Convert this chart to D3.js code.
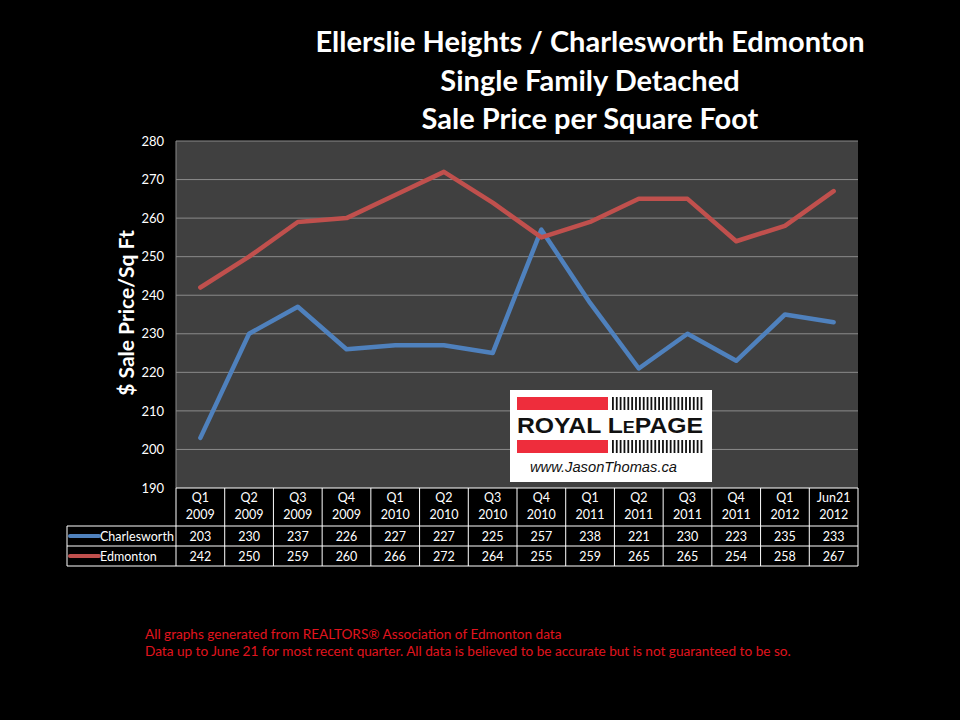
<!DOCTYPE html>
<html><head><meta charset="utf-8">
<script src="https://cdn.jsdelivr.net/npm/d3@7"></script>
<style>body{margin:0;background:#000}svg{display:block}</style>
</head><body>
<script>
const categories = [["Q1","2009"],["Q2","2009"],["Q3","2009"],["Q4","2009"],["Q1","2010"],["Q2","2010"],["Q3","2010"],["Q4","2010"],["Q1","2011"],["Q2","2011"],["Q3","2011"],["Q4","2011"],["Q1","2012"],["Jun21","2012"]];
const charlesworth = [203,230,237,226,227,227,225,257,238,221,230,223,235,233];
const edmonton = [242,250,259,260,266,272,264,255,259,265,265,254,258,267];
const seriesNames = ["Charlesworth","Edmonton"];
const seriesColors = ["#4f81bd","#c0504d"];
const yTicks = [190,200,210,220,230,240,250,260,270,280];
const titleLines = ["Ellerslie Heights / Charlesworth Edmonton","Single Family Detached","Sale Price per Square Foot"];
const footnotes = ["All graphs generated from REALTORS® Association of Edmonton data","Data up to June 21  for most recent quarter. All data is believed to be accurate but is not guaranteed to be so."];

(function(){
const W=960,H=720;
const svg=d3.select("body").append("svg").attr("width",W).attr("height",H).style("background","#000");
const font="Lato, 'Open Sans', sans-serif";
const pL=176,pR=858,pT=141,pB=488;
const x=d3.scaleBand().domain(d3.range(categories.length)).range([pL,pR]);
const y=d3.scaleLinear().domain([190,280]).range([pB,pT]);

svg.append("g").selectAll("text").data(titleLines).join("text")
 .attr("x",590).attr("y",(d,i)=>52+i*38.5).attr("text-anchor","middle")
 .attr("fill","#fff").attr("font-family",font).attr("font-weight","bold").attr("font-size",29).text(d=>d);

svg.append("rect").attr("x",pL).attr("y",pT).attr("width",pR-pL).attr("height",pB-pT).attr("fill","#404040");
svg.append("g").selectAll("line").data(yTicks.slice(1)).join("line")
 .attr("x1",pL).attr("x2",pR).attr("y1",d=>y(d)).attr("y2",d=>y(d)).attr("stroke","#8a8a8a").attr("stroke-width",1);
svg.append("line").attr("x1",pL).attr("x2",pL).attr("y1",pT).attr("y2",pB).attr("stroke","#8a8a8a");
const ya=d3.axisLeft(y).tickValues(yTicks).tickSize(0).tickPadding(12);
const yg=svg.append("g").attr("transform",`translate(${pL},0)`).call(ya);
yg.select(".domain").remove();
yg.selectAll("text").attr("fill","#fff").attr("font-family",font).attr("font-size",13);
svg.append("text").attr("transform",`translate(134,313) rotate(-90)`).attr("text-anchor","middle")
 .attr("fill","#fff").attr("font-family",font).attr("font-weight","bold").attr("font-size",21).text("$ Sale Price/Sq Ft");

const lg=svg.append("g").attr("transform","translate(510,390)");
lg.append("rect").attr("width",202).attr("height",92).attr("fill","#fff");
lg.append("rect").attr("x",7).attr("y",7).attr("width",91).attr("height",13).attr("fill","#ee2d3c");
lg.append("rect").attr("x",7).attr("y",50).attr("width",91).attr("height",13).attr("fill","#ee2d3c");
const stripes=d3.range(24);
[7,50].forEach(yy=>{
  lg.append("g").selectAll("rect").data(stripes).join("rect")
   .attr("x",d=>102+d*3.85).attr("y",yy).attr("width",1.8).attr("height",13).attr("fill","#111");
});
const brand=lg.append("text").attr("x",7).attr("y",43).attr("font-family","'Liberation Sans', Arial, sans-serif")
 .attr("font-weight","bold").attr("font-size",22).attr("fill","#111").attr("textLength",186).attr("lengthAdjust","spacingAndGlyphs");
brand.append("tspan").text("ROYAL L");
brand.append("tspan").attr("font-size",16).text("E");
brand.append("tspan").text("PAGE");
lg.append("text").attr("x",20).attr("y",82).attr("font-family","'Liberation Sans', Arial, sans-serif")
 .attr("font-style","italic").attr("font-size",14).attr("fill","#111").attr("textLength",147).attr("lengthAdjust","spacingAndGlyphs").text("www.JasonThomas.ca");

const line=d3.line().x((d,i)=>x(i)+x.bandwidth()/2).y(d=>y(d));
[charlesworth,edmonton].forEach((s,k)=>{
  svg.append("path").datum(s).attr("d",line).attr("fill","none").attr("stroke",seriesColors[k])
   .attr("stroke-width",4.5).attr("stroke-linejoin","round").attr("stroke-linecap","round");
});

const tb=svg.append("g");
const rowY=[488,526,546,566];
const tLeft=67;
tb.append("g").selectAll("line").data(d3.range(categories.length+1)).join("line")
 .attr("x1",i=>pL+i*x.step()).attr("x2",i=>pL+i*x.step()).attr("y1",rowY[0]).attr("y2",rowY[3]).attr("stroke","#fff");
tb.append("line").attr("x1",pL).attr("x2",pR).attr("y1",rowY[0]).attr("y2",rowY[0]).attr("stroke","#fff");
[1,2,3].forEach(r=>tb.append("line").attr("x1",tLeft).attr("x2",pR).attr("y1",rowY[r]).attr("y2",rowY[r]).attr("stroke","#fff"));
tb.append("line").attr("x1",tLeft).attr("x2",tLeft).attr("y1",rowY[1]).attr("y2",rowY[3]).attr("stroke","#fff");
const fs=12.5;
const hdr=tb.append("g").selectAll("text").data(categories).join("text")
 .attr("x",(d,i)=>x(i)+x.bandwidth()/2).attr("text-anchor","middle").attr("fill","#fff").attr("font-family",font).attr("font-size",fs);
hdr.append("tspan").attr("y",502).attr("x",(d,i)=>x(i)+x.bandwidth()/2).text(d=>d[0]);
hdr.append("tspan").attr("y",519).attr("x",(d,i)=>x(i)+x.bandwidth()/2).text(d=>d[1]);
[charlesworth,edmonton].forEach((s,k)=>{
  const cy=(rowY[k+1]+rowY[k+2])/2+4.5;
  tb.append("g").selectAll("text").data(s).join("text").attr("x",(d,i)=>x(i)+x.bandwidth()/2).attr("y",cy)
   .attr("text-anchor","middle").attr("fill","#fff").attr("font-family",font).attr("font-size",fs).text(d=>d);
  tb.append("line").attr("x1",tLeft+3).attr("x2",tLeft+32).attr("y1",cy-4.5).attr("y2",cy-4.5).attr("stroke",seriesColors[k]).attr("stroke-width",4).attr("stroke-linecap","round");
  tb.append("text").attr("x",tLeft+33).attr("y",cy).attr("fill","#fff").attr("font-family",font).attr("font-size",fs).text(seriesNames[k]);
});

svg.append("g").selectAll("text").data(footnotes).join("text")
 .attr("x",145).attr("y",(d,i)=>639+i*17).attr("fill","#e0141e").attr("font-family",font).attr("font-size",13.6).text(d=>d);
})();
</script>
</body></html>
